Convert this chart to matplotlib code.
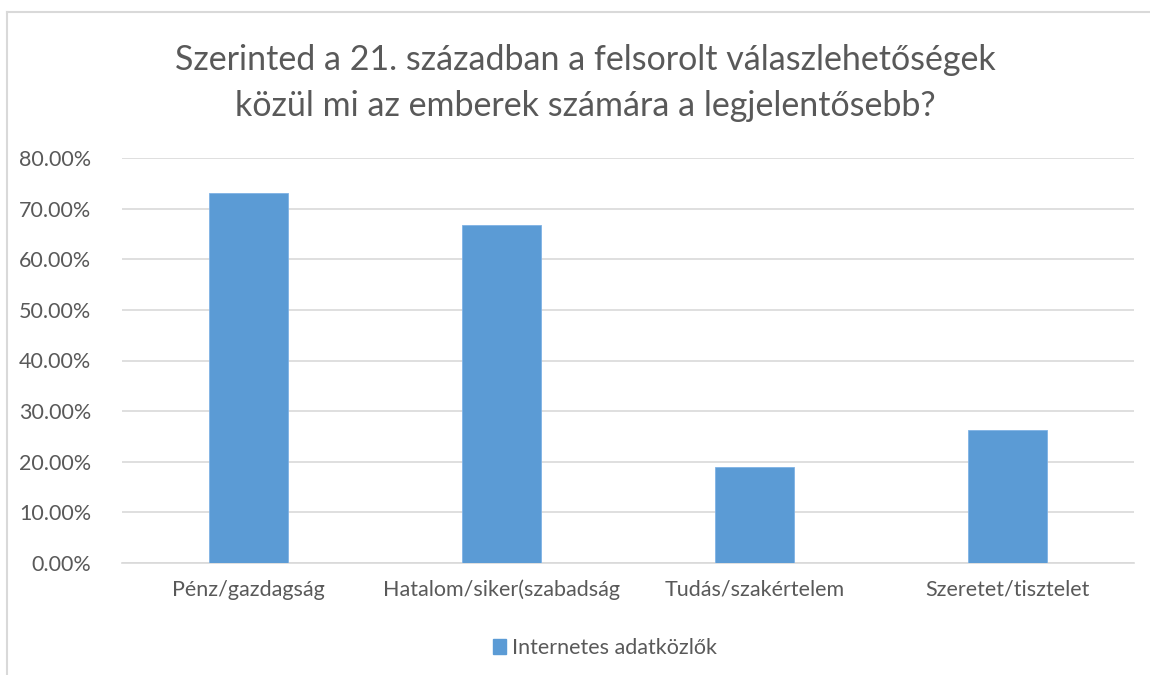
import matplotlib
matplotlib.use("Agg")
import matplotlib.pyplot as plt
from matplotlib.ticker import FuncFormatter, MultipleLocator
from matplotlib.patches import Rectangle
from matplotlib.lines import Line2D

categories = ["Pénz/gazdagság", "Hatalom/siker(szabadság", "Tudás/szakértelem", "Szeretet/tisztelet"]
values = [73.0, 66.7, 19.0, 26.25]
series_name = "Internetes adatközlők"
title = "Szerinted a 21. században a felsorolt válaszlehetőségek\nközül mi az emberek számára a legjelentősebb?"

plt.rcParams['font.family'] = ['Lato', 'DejaVu Sans']
txt = '#595959'
bar_color = '#5B9BD5'

fig = plt.figure(figsize=(11.5, 6.75), dpi=100)
ax = fig.add_axes([122/1150, 1-563/675, (1134-122)/1150, (563-158)/675])

x = list(range(len(categories)))
ax.bar(x, values, width=0.313, color=bar_color, edgecolor='#7FB2E5', linewidth=0.6, zorder=3, label=series_name)
ax.set_xlim(-0.5, len(categories)-0.5)
ax.set_ylim(0, 80)
ax.yaxis.set_major_locator(MultipleLocator(10))
ax.yaxis.set_major_formatter(FuncFormatter(lambda v, p: f"{v:.2f}%"))
ax.grid(axis='y', color='#D9D9D9', linewidth=1.2, zorder=0)
for s in ['top', 'right', 'left']:
    ax.spines[s].set_visible(False)
ax.spines['bottom'].set_color('#D9D9D9')
ax.spines['bottom'].set_linewidth(1.2)
ax.set_xticks(x)
ax.set_xticklabels(categories)
ax.tick_params(axis='both', length=0, colors=txt, labelsize=15.5)
ax.tick_params(axis='x', pad=12)
ax.tick_params(axis='y', pad=22)

fig.text(585/1150, 1-83/675, title, ha='center', va='center', fontsize=24.5, color=txt, linespacing=1.5)

leg = fig.legend(handles=[Rectangle((0, 0), 1, 1, color=bar_color)], labels=[series_name],
                 loc='center', bbox_to_anchor=(0.526, 1-648/675), frameon=False,
                 fontsize=15.5, handlelength=0.6, handleheight=0.7, handletextpad=0.3, labelcolor=txt)

# chart border (top and left visible)
fig.add_artist(Line2D([7/1150, 1], [1-12/675, 1-12/675], color='#D9D9D9', linewidth=1.5, transform=fig.transFigure))
fig.add_artist(Line2D([7/1150, 7/1150], [0, 1-12/675], color='#D9D9D9', linewidth=1.5, transform=fig.transFigure))

fig.savefig("out.png", dpi=100, facecolor='white')
